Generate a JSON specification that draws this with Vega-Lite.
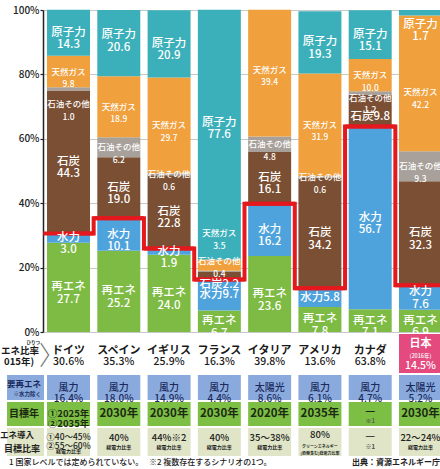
{
  "$schema": "https://vega.github.io/schema/vega-lite/v6.json",
  "padding": {"left": 0, "top": 5, "right": 0, "bottom": 0},
  "spacing": 2,
  "bounds": "flush",
  "config": {"view": {"stroke": null}, "text": {"font": "Noto Sans CJK JP"}},
  "resolve": {"scale": {"x": "independent", "y": "independent"}},
  "datasets": {
    "mix": [
      {"country": "ドイツ", "source": "再エネ", "value": 27.7},
      {"country": "ドイツ", "source": "水力", "value": 3.0},
      {"country": "ドイツ", "source": "石炭", "value": 44.3},
      {"country": "ドイツ", "source": "石油その他", "value": 1.0},
      {"country": "ドイツ", "source": "天然ガス", "value": 9.8},
      {"country": "ドイツ", "source": "原子力", "value": 14.3},
      {"country": "スペイン", "source": "再エネ", "value": 25.2},
      {"country": "スペイン", "source": "水力", "value": 10.1},
      {"country": "スペイン", "source": "石炭", "value": 19.0},
      {"country": "スペイン", "source": "石油その他", "value": 6.2},
      {"country": "スペイン", "source": "天然ガス", "value": 18.9},
      {"country": "スペイン", "source": "原子力", "value": 20.6},
      {"country": "イギリス", "source": "再エネ", "value": 24.0},
      {"country": "イギリス", "source": "水力", "value": 1.9},
      {"country": "イギリス", "source": "石炭", "value": 22.8},
      {"country": "イギリス", "source": "石油その他", "value": 0.6},
      {"country": "イギリス", "source": "天然ガス", "value": 29.7},
      {"country": "イギリス", "source": "原子力", "value": 20.9},
      {"country": "フランス", "source": "再エネ", "value": 6.7},
      {"country": "フランス", "source": "水力", "value": 9.7},
      {"country": "フランス", "source": "石炭", "value": 2.2},
      {"country": "フランス", "source": "石油その他", "value": 0.4},
      {"country": "フランス", "source": "天然ガス", "value": 3.5},
      {"country": "フランス", "source": "原子力", "value": 77.6},
      {"country": "イタリア", "source": "再エネ", "value": 23.6},
      {"country": "イタリア", "source": "水力", "value": 16.2},
      {"country": "イタリア", "source": "石炭", "value": 16.1},
      {"country": "イタリア", "source": "石油その他", "value": 4.8},
      {"country": "イタリア", "source": "天然ガス", "value": 39.4},
      {"country": "アメリカ", "source": "再エネ", "value": 7.8},
      {"country": "アメリカ", "source": "水力", "value": 5.8},
      {"country": "アメリカ", "source": "石炭", "value": 34.2},
      {"country": "アメリカ", "source": "石油その他", "value": 0.6},
      {"country": "アメリカ", "source": "天然ガス", "value": 31.9},
      {"country": "アメリカ", "source": "原子力", "value": 19.3},
      {"country": "カナダ", "source": "再エネ", "value": 7.1},
      {"country": "カナダ", "source": "水力", "value": 56.7},
      {"country": "カナダ", "source": "石炭", "value": 9.8},
      {"country": "カナダ", "source": "石油その他", "value": 1.2},
      {"country": "カナダ", "source": "天然ガス", "value": 10.0},
      {"country": "カナダ", "source": "原子力", "value": 15.1},
      {"country": "日本", "source": "再エネ", "value": 6.9},
      {"country": "日本", "source": "水力", "value": 7.6},
      {"country": "日本", "source": "石炭", "value": 32.3},
      {"country": "日本", "source": "石油その他", "value": 9.3},
      {"country": "日本", "source": "天然ガス", "value": 42.2},
      {"country": "日本", "source": "原子力", "value": 1.7}
    ],
    "ratio": [
      {"country": "ドイツ", "ratio": 30.6},
      {"country": "スペイン", "ratio": 35.3},
      {"country": "イギリス", "ratio": 25.9},
      {"country": "フランス", "ratio": 16.3},
      {"country": "イタリア", "ratio": 39.8},
      {"country": "アメリカ", "ratio": 13.6},
      {"country": "カナダ", "ratio": 63.8},
      {"country": "日本", "ratio": 14.5}
    ],
    "table": [
      {"country": "ドイツ", "ratio": "30.6%", "note": "", "main": "風力\n16.4%", "year": "①2025年\n②2035年", "yearSub": "", "goal": "①40〜45%\n②55〜60%", "goalSub": "総電力比率"},
      {"country": "スペイン", "ratio": "35.3%", "note": "", "main": "風力\n18.0%", "year": "2030年", "yearSub": "", "goal": "40%", "goalSub": "総電力比率"},
      {"country": "イギリス", "ratio": "25.9%", "note": "", "main": "風力\n14.9%", "year": "2030年", "yearSub": "", "goal": "44%※2", "goalSub": "総電力比率"},
      {"country": "フランス", "ratio": "16.3%", "note": "", "main": "風力\n4.4%", "year": "2030年", "yearSub": "", "goal": "40%", "goalSub": "総電力比率"},
      {"country": "イタリア", "ratio": "39.8%", "note": "", "main": "太陽光\n8.6%", "year": "2020年", "yearSub": "", "goal": "35〜38%", "goalSub": "総電力比率"},
      {"country": "アメリカ", "ratio": "13.6%", "note": "", "main": "風力\n6.1%", "year": "2035年", "yearSub": "", "goal": "80%", "goalSub": "クリーンエネルギー\n(原発含む)総電力比率"},
      {"country": "カナダ", "ratio": "63.8%", "note": "", "main": "風力\n4.7%", "year": "—", "yearSub": "※1", "goal": "—", "goalSub": "※1"},
      {"country": "日本", "ratio": "14.5%", "note": "(2016年)", "main": "太陽光\n5.2%", "year": "2030年", "yearSub": "", "goal": "22〜24%", "goalSub": "総電力比率"}
    ],
    "heads": [
      {"ruby": "ひりつ", "r0a": "エネ比率", "r0b": "015年)", "chev": "〉", "r1a": "要再エネ", "r1b": "※水力除く", "r2": "目標年", "r3a": "エネ導入", "r3b": "目標比率", "foot": "1 国家レベルでは定められていない。　 ※2 複数存在するシナリオの1つ。", "src": "出典：資源エネルギー庁"}
    ]
  },
  "vconcat": [
    {
      "width": 403,
      "height": 322,
      "layer": [
        {
          "data": {"name": "mix"},
          "transform": [
            {"calculate": "indexof(['再エネ','水力','石炭','石油その他','天然ガス','原子力'], datum.source)", "as": "ord"},
            {"stack": "value", "groupby": ["country"], "sort": [{"field": "ord", "order": "ascending"}], "as": ["y0", "y1"]}
          ],
          "mark": {"type": "bar"},
          "encoding": {
            "x": {"field": "country", "type": "nominal", "axis": null, "scale": {"type": "band", "domain": ["ドイツ","スペイン","イギリス","フランス","イタリア","アメリカ","カナダ","日本"], "paddingInner": 0.145, "paddingOuter": 0.08}},
            "y": {"field": "y0", "type": "quantitative", "scale": {"domain": [0, 100], "nice": false},
              "axis": {"title": null, "values": [0,10,20,30,40,50,60,70,80,90,100],
                "labelExpr": "datum.value % 20 === 0 ? datum.value + '%' : ''",
                "tickSize": 3, "tickColor": "#222", "tickWidth": 1.2,
                "tickOpacity": {"condition": {"test": "datum.value % 20 === 0", "value": 1}, "value": 0},
                "labelPadding": 1, "labelFont": "Noto Sans CJK JP", "labelFontSize": 10, "labelFontWeight": 500, "labelColor": "#222",
                "domainColor": "#222", "domainWidth": 1.5, "gridColor": "#c8c8c8", "gridWidth": 1}},
            "y2": {"field": "y1"},
            "color": {"field": "source", "type": "nominal", "legend": null,
              "scale": {"domain": ["再エネ","水力","石炭","石油その他","天然ガス","原子力"],
                "range": ["#7dbb44","#4fa3dc","#7a4f33","#a8a09a","#f0a03c","#3cb0ba"]}}
          }
        },
        {
          "data": {"name": "ratio"},
          "transform": [{"window": [{"op": "row_number", "as": "i"}]}],
          "mark": {"type": "line", "interpolate": "step", "color": "#e5181e", "strokeWidth": 4},
          "encoding": {
            "x": {"field": "country", "type": "nominal"},
            "y": {"field": "ratio", "type": "quantitative"},
            "order": {"field": "i"}
          }
        },
        {
          "data": {"name": "ratio"},
          "mark": {"type": "bar", "color": "#e5181e", "stroke": "#e5181e", "strokeWidth": 4, "width": {"band": 1.17}},
          "encoding": {
            "x": {"field": "country", "type": "nominal"},
            "y": {"field": "ratio", "type": "quantitative"},
            "y2": {"field": "ratio"}
          }
        },
        {
          "data": {"name": "mix"},
          "transform": [
            {"calculate": "indexof(['再エネ','水力','石炭','石油その他','天然ガス','原子力'], datum.source)", "as": "ord"},
            {"stack": "value", "groupby": ["country"], "sort": [{"field": "ord", "order": "ascending"}], "as": ["y0", "y1"]},
            {"calculate": "datum.country + '|' + datum.source", "as": "key"},
            {"calculate": "datum.key=='ドイツ|石油その他' ? -4.7 : datum.key=='スペイン|原子力' ? 2.5 : datum.key=='フランス|原子力' ? 3.7 : datum.key=='フランス|天然ガス' ? 9.9 : datum.key=='フランス|石油その他' ? 3.1 : datum.key=='フランス|石炭' ? -2.8 : datum.key=='カナダ|石油その他' ? -1.4 : datum.key=='カナダ|石炭' ? -1.9 : datum.key=='日本|原子力' ? -3.7 : datum.key=='日本|天然ガス' ? -2.8 : datum.key=='日本|水力' ? 1.6 : datum.key=='イタリア|天然ガス' ? 1 : 0", "as": "adj"},
            {"calculate": "(datum.y0 + datum.y1) / 2 + datum.adj", "as": "mid"},
            {"calculate": "indexof(['フランス|水力','フランス|石炭','アメリカ|水力','カナダ|石炭'], datum.key) >= 0 ? datum.source + format(datum.value, '.1f') : datum.source + '\\n' + format(datum.value, '.1f')", "as": "lbl"}
          ],
          "mark": {"type": "text", "color": "white", "font": "Noto Sans CJK JP", "fontWeight": 500, "lineBreak": "\n", "lineHeight": 12.5, "baseline": "middle"},
          "encoding": {
            "x": {"field": "country", "type": "nominal"},
            "y": {"field": "mid", "type": "quantitative"},
            "text": {"field": "lbl"},
            "size": {"condition": {"test": "datum.source==='天然ガス' || datum.source==='石油その他'", "value": 8.5}, "value": 11.5}
          }
        }
      ]
    },
    {
      "width": 403,
      "height": 39,
      "data": {"name": "table"},
      "encoding": {"x": {"field": "country", "type": "nominal", "axis": null, "scale": {"type": "band", "domain": ["ドイツ","スペイン","イギリス","フランス","イタリア","アメリカ","カナダ","日本"], "paddingInner": 0.145, "paddingOuter": 0.08}}},
      "layer": [
        {
          "transform": [{"filter": "datum.country === '日本'"}],
          "mark": {"type": "bar", "color": "#e44a7e"}
        },
        {
          "transform": [{"filter": "datum.country !== '日本'"}],
          "mark": {"type": "text", "fontWeight": "bold", "fontSize": 11, "color": "#1a1a1a", "dy": -3, "baseline": "middle"},
          "encoding": {"text": {"field": "country"}}
        },
        {
          "transform": [{"filter": "datum.country !== '日本'"}],
          "mark": {"type": "text", "fontWeight": 500, "fontSize": 10.5, "color": "#1a1a1a", "dy": 8, "baseline": "middle"},
          "encoding": {"text": {"field": "ratio"}}
        },
        {
          "transform": [{"filter": "datum.country === '日本'"}],
          "mark": {"type": "text", "fontWeight": "bold", "fontSize": 11, "color": "white", "dy": -9.5, "baseline": "middle"},
          "encoding": {"text": {"field": "country"}}
        },
        {
          "transform": [{"filter": "datum.country === '日本'"}],
          "mark": {"type": "text", "fontWeight": 500, "fontSize": 5.5, "color": "white", "dy": 2.5, "baseline": "middle"},
          "encoding": {"text": {"field": "note"}}
        },
        {
          "transform": [{"filter": "datum.country === '日本'"}],
          "mark": {"type": "text", "fontWeight": 500, "fontSize": 10.5, "color": "white", "dy": 12.5, "baseline": "middle"},
          "encoding": {"text": {"field": "ratio"}}
        },
        {
          "data": {"name": "heads"},
          "mark": {"type": "text", "fontWeight": "bold", "fontSize": 4.5, "color": "#1a1a1a", "align": "right", "baseline": "middle", "dx": -7, "dy": -10.5},
          "encoding": {"x": {"datum": "ドイツ", "type": "nominal", "bandPosition": 0}, "text": {"field": "ruby"}}
        },
        {
          "data": {"name": "heads"},
          "mark": {"type": "text", "fontWeight": "bold", "fontSize": 9.5, "color": "#1a1a1a", "align": "right", "baseline": "middle", "dx": -8, "dy": -2.5},
          "encoding": {"x": {"datum": "ドイツ", "type": "nominal", "bandPosition": 0}, "text": {"field": "r0a"}}
        },
        {
          "data": {"name": "heads"},
          "mark": {"type": "text", "fontWeight": "bold", "fontSize": 9.5, "color": "#1a1a1a", "align": "right", "baseline": "middle", "dx": -13, "dy": 8},
          "encoding": {"x": {"datum": "ドイツ", "type": "nominal", "bandPosition": 0}, "text": {"field": "r0b"}}
        },
        {
          "data": {"name": "heads"},
          "mark": {"type": "text", "fontWeight": 300, "fontSize": 26, "color": "#777777", "align": "left", "baseline": "middle", "dx": -8, "dy": 3},
          "encoding": {"x": {"datum": "ドイツ", "type": "nominal", "bandPosition": 0}, "text": {"field": "chev"}}
        }
      ]
    },
    {
      "width": 403,
      "height": 25,
      "data": {"name": "table"},
      "encoding": {"x": {"field": "country", "type": "nominal", "axis": null, "scale": {"type": "band", "domain": ["ドイツ","スペイン","イギリス","フランス","イタリア","アメリカ","カナダ","日本"], "paddingInner": 0.145, "paddingOuter": 0.08}}},
      "layer": [
        {"mark": {"type": "bar", "color": "#8aaade"}},
        {
          "mark": {"type": "text", "fontWeight": 500, "fontSize": 10, "lineHeight": 11, "lineBreak": "\n", "color": "#1b2a5c", "baseline": "middle"},
          "encoding": {"text": {"field": "main"}}
        },
        {
          "data": {"name": "heads"},
          "mark": {"type": "bar", "color": "#8aaade", "width": {"band": 0.86}, "xOffset": -43},
          "encoding": {"x": {"datum": "ドイツ", "type": "nominal"}}
        },
        {
          "data": {"name": "heads"},
          "mark": {"type": "text", "fontWeight": "bold", "fontSize": 8.5, "color": "#1b2a5c", "align": "right", "baseline": "middle", "dx": -6, "dy": -3.5},
          "encoding": {"x": {"datum": "ドイツ", "type": "nominal", "bandPosition": 0}, "text": {"field": "r1a"}}
        },
        {
          "data": {"name": "heads"},
          "mark": {"type": "text", "fontWeight": "bold", "fontSize": 5.5, "color": "#1b2a5c", "align": "right", "baseline": "middle", "dx": -6, "dy": 6.5},
          "encoding": {"x": {"datum": "ドイツ", "type": "nominal", "bandPosition": 0}, "text": {"field": "r1b"}}
        }
      ]
    },
    {
      "width": 403,
      "height": 24,
      "data": {"name": "table"},
      "encoding": {"x": {"field": "country", "type": "nominal", "axis": null, "scale": {"type": "band", "domain": ["ドイツ","スペイン","イギリス","フランス","イタリア","アメリカ","カナダ","日本"], "paddingInner": 0.145, "paddingOuter": 0.08}}},
      "layer": [
        {"mark": {"type": "bar", "color": "#7dbf45"}},
        {
          "transform": [{"filter": "datum.country !== 'カナダ'"}],
          "mark": {"type": "text", "fontWeight": "bold", "lineHeight": 10, "lineBreak": "\n", "color": "#1c2a12", "baseline": "middle"},
          "encoding": {"text": {"field": "year"},
            "size": {"condition": {"test": "datum.country === 'ドイツ'", "value": 9.5}, "value": 11.5}}
        },
        {
          "transform": [{"filter": "datum.country === 'カナダ'"}],
          "mark": {"type": "text", "fontWeight": "bold", "fontSize": 11, "color": "#1c2a12", "baseline": "middle", "dy": -2.5},
          "encoding": {"text": {"field": "year"}}
        },
        {
          "transform": [{"filter": "datum.country === 'カナダ'"}],
          "mark": {"type": "text", "fontWeight": 500, "fontSize": 6, "color": "#4a4a4a", "baseline": "middle", "dy": 6.5},
          "encoding": {"text": {"field": "yearSub"}}
        },
        {
          "data": {"name": "heads"},
          "mark": {"type": "bar", "color": "#7dbf45", "width": {"band": 0.86}, "xOffset": -43},
          "encoding": {"x": {"datum": "ドイツ", "type": "nominal"}}
        },
        {
          "data": {"name": "heads"},
          "mark": {"type": "text", "fontWeight": "bold", "fontSize": 10, "color": "#1c2a12", "align": "right", "baseline": "middle", "dx": -8},
          "encoding": {"x": {"datum": "ドイツ", "type": "nominal", "bandPosition": 0}, "text": {"field": "r2"}}
        }
      ]
    },
    {
      "width": 403,
      "height": 28,
      "data": {"name": "table"},
      "encoding": {"x": {"field": "country", "type": "nominal", "axis": null, "scale": {"type": "band", "domain": ["ドイツ","スペイン","イギリス","フランス","イタリア","アメリカ","カナダ","日本"], "paddingInner": 0.145, "paddingOuter": 0.08}}},
      "layer": [
        {"mark": {"type": "bar", "color": "#dfe5c6"}},
        {
          "transform": [{"filter": "datum.country !== 'ドイツ' && datum.country !== 'アメリカ' && datum.country !== 'カナダ'"}],
          "mark": {"type": "text", "fontWeight": 500, "fontSize": 9.5, "color": "#222222", "baseline": "middle", "dy": -4.5},
          "encoding": {"text": {"field": "goal"}}
        },
        {
          "transform": [{"filter": "datum.country === 'ドイツ' || datum.country === 'カナダ'"}],
          "mark": {"type": "text", "fontWeight": 500, "lineHeight": 9.5, "lineBreak": "\n", "color": "#222222", "baseline": "middle", "dy": -5.5},
          "encoding": {"text": {"field": "goal"},
            "size": {"condition": {"test": "datum.country === 'ドイツ'", "value": 8.5}, "value": 11}}
        },
        {
          "transform": [{"filter": "datum.country === 'アメリカ'"}],
          "mark": {"type": "text", "fontWeight": 500, "fontSize": 9.5, "color": "#222222", "baseline": "middle", "dy": -7.5},
          "encoding": {"text": {"field": "goal"}}
        },
        {
          "transform": [{"filter": "datum.country !== 'ドイツ'"}],
          "mark": {"type": "text", "fontWeight": "bold", "lineHeight": 7.5, "lineBreak": "\n", "baseline": "middle", "dy": 4.5},
          "encoding": {"text": {"field": "goalSub"},
            "size": {"condition": [{"test": "datum.country === 'カナダ'", "value": 6}, {"test": "datum.country === 'アメリカ'", "value": 4}], "value": 5},
            "color": {"condition": {"test": "datum.country === 'カナダ'", "value": "#4a4a4a"}, "value": "#222222"}}
        },
        {
          "transform": [{"filter": "datum.country === 'ドイツ'"}],
          "mark": {"type": "text", "fontWeight": "bold", "fontSize": 5, "color": "#222222", "baseline": "middle", "dy": 8.5},
          "encoding": {"text": {"field": "goalSub"}}
        },
        {
          "data": {"name": "heads"},
          "mark": {"type": "bar", "color": "#dfe5c6", "width": {"band": 0.86}, "xOffset": -43},
          "encoding": {"x": {"datum": "ドイツ", "type": "nominal"}}
        },
        {
          "data": {"name": "heads"},
          "mark": {"type": "text", "fontWeight": "bold", "fontSize": 8.5, "color": "#222222", "align": "right", "baseline": "middle", "dx": -13, "dy": -7},
          "encoding": {"x": {"datum": "ドイツ", "type": "nominal", "bandPosition": 0}, "text": {"field": "r3a"}}
        },
        {
          "data": {"name": "heads"},
          "mark": {"type": "text", "fontWeight": "bold", "fontSize": 9, "color": "#222222", "align": "right", "baseline": "middle", "dx": -7, "dy": 6.5},
          "encoding": {"x": {"datum": "ドイツ", "type": "nominal", "bandPosition": 0}, "text": {"field": "r3b"}}
        }
      ]
    },
    {
      "width": 403,
      "height": 9,
      "data": {"name": "heads"},
      "layer": [
        {
          "mark": {"type": "text", "fontWeight": 500, "fontSize": 8, "color": "#222222", "align": "left", "baseline": "middle", "dx": -38},
          "encoding": {"x": {"datum": "ドイツ", "type": "nominal", "bandPosition": 0, "axis": null, "scale": {"type": "band", "domain": ["ドイツ","スペイン","イギリス","フランス","イタリア","アメリカ","カナダ","日本"], "paddingInner": 0.145, "paddingOuter": 0.08}}, "text": {"field": "foot"}}
        },
        {
          "mark": {"type": "text", "fontWeight": "bold", "fontSize": 8, "color": "#222222", "align": "right", "baseline": "middle", "dx": -2},
          "encoding": {"x": {"datum": "日本", "type": "nominal", "bandPosition": 1}, "text": {"field": "src"}}
        }
      ]
    }
  ]
}
